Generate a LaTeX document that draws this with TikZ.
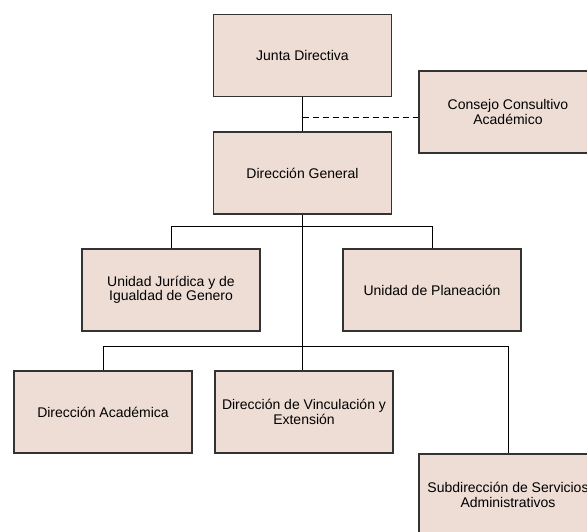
\documentclass[tikz,border=0pt]{standalone}
\usepackage{fontspec}
\setmainfont{Liberation Sans}
\usetikzlibrary{positioning}
\definecolor{boxfill}{RGB}{238,221,213}
\definecolor{boxline}{RGB}{51,51,51}

\begin{document}
\begin{tikzpicture}[x=1pt, y=-1pt, every node/.style={font=\fontsize{14}{14.5}\selectfont}, orgbox/.style={draw=boxline, line width=1.1pt, fill=boxfill, minimum width=178pt, minimum height=82pt, inner sep=0pt, align=center}, link/.style={draw=black, line width=0.9pt}]
	\useasboundingbox (0,0) rectangle (587,531);
	\node[orgbox] (jd) at (302.5,55.5) {Junta Directiva};
	\node[orgbox] (cca) at (508,112) {Consejo Consultivo\\Académico};
	\node[orgbox] (dg) at (302.5,173) {Dirección General};
	\node[orgbox] (uj) at (171,290) {Unidad Jurídica y de\\Igualdad de Genero};
	\node[orgbox] (up) at (432,290) {Unidad de Planeación};
	\node[orgbox] (da) at (103,412) {Dirección Académica};
	\node[orgbox] (dv) at (304,412) {Dirección de Vinculación y\\Extensión};
	\node[orgbox] (sa) at (508,495) {Subdirección de Servicios\\Administrativos};
	\coordinate (cc) at ([yshift=-20pt]jd.south);
	\coordinate (bus1) at ([yshift=-12pt]dg.south);
	\coordinate (bus2) at ([yshift=-132pt]dg.south);
	\draw[link] (jd.south) -- (dg.north);
	\draw[link, dash pattern=on 6pt off 4pt] (cc) -- (cc -| cca.west);
	\draw[link] (dg.south) -- (dg.south |- dv.north);
	\draw[link] (uj.north) |- (bus1) -| (up.north);
	\draw[link] (da.north) |- (bus2) -| (sa.north);
\end{tikzpicture}
\end{document}
